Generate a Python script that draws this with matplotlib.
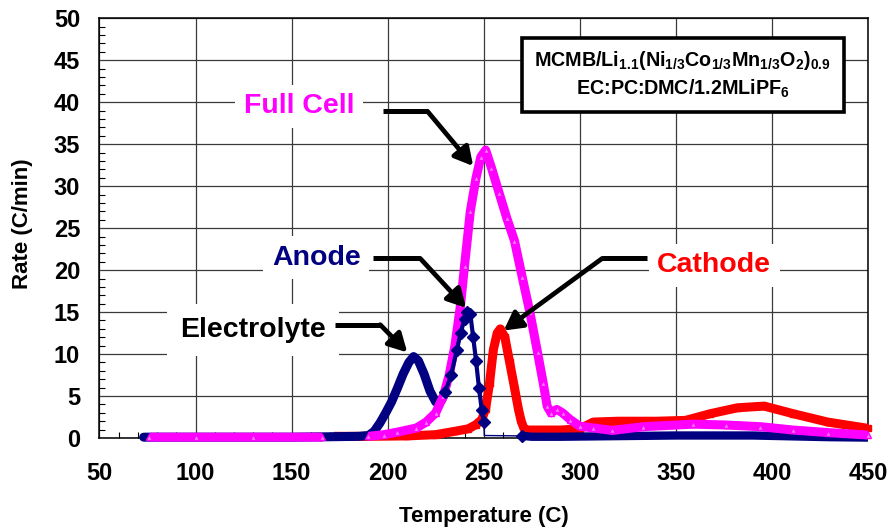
import numpy as np
import matplotlib
matplotlib.use("Agg")
import matplotlib.pyplot as plt
from matplotlib.patches import Rectangle

plt.rcParams['font.family'] = ['Liberation Sans', 'DejaVu Sans']
plt.rcParams['font.weight'] = 'bold'
plt.rcParams['mathtext.fontset'] = 'custom'
plt.rcParams['mathtext.rm'] = 'Liberation Sans:bold'
plt.rcParams['mathtext.it'] = 'Liberation Sans:bold'
plt.rcParams['mathtext.bf'] = 'Liberation Sans:bold'

# ---------------- data ----------------
T_elec = [73, 90, 110, 130, 150, 170, 185, 190, 193, 196, 199, 202, 205, 208, 211, 213.5, 216, 219, 222, 225, 228, 230]
R_elec = [0.1, 0.1, 0.1, 0.1, 0.1, 0.15, 0.2, 0.3, 0.8, 1.8, 3.0, 4.3, 5.9, 7.6, 9.0, 9.7, 9.2, 7.6, 5.6, 4.3, 4.5, 5.4]

T_anode = [230, 233, 236, 238, 240, 241.5, 243, 244.5, 246, 247.5, 249, 250, 250.3, 270, 275, 290, 310, 330, 350, 370, 390, 410, 430, 450]
R_anode = [5.5, 7.5, 10.5, 12.5, 14.2, 15.0, 14.8, 12.0, 9.2, 6.0, 3.3, 1.9, 0.3, 0.25, 0.15, 0.15, 0.2, 0.25, 0.3, 0.3, 0.3, 0.2, 0.1, 0.05]

T_full = [76, 100, 130, 166, np.nan, 190, 198, 205, 215, 220, 225, 229, 232, 235, 238, 240, 243, 246, 248.5, 251,
          254, 258, 262, 266, 270, 274, 278, 281, 283, 285, 288, 291, 295, 300, 307, 317, 333, 359, 376, 394, 411, 429, 450]
R_full = [0.1, 0.1, 0.1, 0.1, np.nan, 0.2, 0.4, 0.7, 1.2, 1.9, 3.0, 5.0, 7.5, 11.0, 16.0, 20.5, 27.0, 31.0, 33.5, 34.3,
          32.2, 29.2, 26.2, 23.5, 19.2, 15.0, 10.2, 6.5, 3.8, 3.0, 3.4, 3.0, 2.2, 1.4, 1.2, 0.9, 1.35, 1.65, 1.55, 1.35, 0.95, 0.65, 0.35]

T_cath = [172, 190, 210, 225, 235, 242, 246, 249, 251, 253, 255, 257, 258.6, 261, 263.5, 266, 268, 269.5, 271, 273,
          280, 290, 300, 307, 320, 340, 355, 368, 382, 396, 411, 429, 450]
R_cath = [0.2, 0.2, 0.25, 0.4, 0.8, 1.1, 1.6, 2.2, 3.5, 6.5, 10.5, 12.5, 13.0, 12.0, 9.0, 6.0, 3.5, 2.0, 1.1, 0.95,
          0.95, 0.95, 1.1, 1.9, 2.0, 2.0, 2.1, 2.9, 3.6, 3.8, 2.9, 1.9, 1.15]

x_ticks = [50, 100, 150, 200, 250, 300, 350, 400, 450]
y_ticks = [0, 5, 10, 15, 20, 25, 30, 35, 40, 45, 50]

NAVY = '#000080'
MAG = '#FF00FF'
RED = '#FF0000'

fig = plt.figure(figsize=(8.93, 5.29), dpi=100)
ax = fig.add_axes([0.1114, 0.172, 0.8606, 0.7934])
ax.set_xlim(50, 450)
ax.set_ylim(0, 50)
ax.set_xticks(x_ticks)
ax.set_yticks(y_ticks)
ax.set_xticks(np.arange(50, 451, 10), minor=True)
ax.set_yticks(np.arange(0, 51, 1), minor=True)
ax.grid(True, which='major', color='#3a3a3a', lw=0.9)
ax.set_axisbelow(True)
for s in ax.spines.values():
    s.set_linewidth(1.1)
    s.set_color('black')
ax.tick_params(axis='both', which='major', direction='in', length=0, labelsize=17)
ax.tick_params(axis='x', which='major', pad=17)
ax.tick_params(axis='y', which='major', pad=14)
ax.tick_params(axis='x', which='minor', direction='in', length=4.5, width=0.8, top=False)
ax.tick_params(axis='y', which='minor', direction='in', length=4, width=0.8, right=False)
for lab in ax.get_xticklabels() + ax.get_yticklabels():
    lab.set_fontweight('bold')

ax.set_xlabel('Temperature (C)', fontsize=16, fontweight='bold')
ax.set_ylabel('Rate (C/min)', fontsize=16, fontweight='bold')
ax.xaxis.set_label_coords(0.5, -0.162)
ax.yaxis.set_label_coords(-0.087, 0.51)

# ---------------- series ----------------
ax.plot(T_cath, R_cath, color=RED, lw=6.5, marker='s', ms=4, mfc=RED, mec=RED,
        solid_capstyle='butt', clip_on=False, zorder=4)
ax.plot(T_elec, R_elec, color=NAVY, lw=6.5, solid_capstyle='round', clip_on=False, zorder=5)
i_end = T_anode.index(250.3)
i_tail = T_anode.index(270)
ax.plot(T_anode[:i_end], R_anode[:i_end], color=NAVY, lw=3.0, clip_on=False, zorder=7)
ax.plot(T_anode[:i_tail + 1], R_anode[:i_tail + 1], color=NAVY, lw=1.0, marker='D', ms=6.5,
        markevery=list(range(0, i_end)) + [i_tail], clip_on=False, zorder=7)
ax.plot(T_anode[i_tail:], R_anode[i_tail:], color=NAVY, lw=6.0, solid_capstyle='butt',
        clip_on=False, zorder=5)
ax.plot(T_full, R_full, color=MAG, lw=6.5, marker='^', ms=5, mfc='#ff7dff', mec=MAG,
        solid_capstyle='butt', clip_on=False, zorder=6)

# ---------------- annotations ----------------
def callout(x0, x1, y, hx, hy):
    ax.plot([x0, x1], [y, y], color='black', lw=3.6, solid_capstyle='butt', zorder=9)
    ax.annotate('', xy=(hx, hy), xytext=(x1, y),
                arrowprops=dict(arrowstyle='-|>,head_length=0.55,head_width=0.3', lw=3.4,
                                color='black', shrinkA=0, shrinkB=0, mutation_scale=20),
                zorder=9)

lbl_box = dict(boxstyle='square,pad=0.3', facecolor='white', edgecolor='none')
ax.text(153.9, 39.5, 'Full Cell', color=MAG, fontsize=20.5, fontweight='bold',
        ha='center', va='center', bbox=lbl_box, zorder=8)
callout(197.7, 220.8, 38.9, 244.5, 32.4)

ax.text(162.8, 21.5, 'Anode', color=NAVY, fontsize=20.5, fontweight='bold',
        ha='center', va='center', bbox=lbl_box, zorder=8)
callout(192.4, 216.9, 21.4, 240.8, 15.5)

ax.text(129.9, 12.9, 'Electrolyte', color='black', fontsize=20.5, fontweight='bold',
        ha='center', va='center', bbox=dict(boxstyle='square,pad=0.45', facecolor='white', edgecolor='none'),
        zorder=8)
callout(172.6, 196.1, 13.5, 210.2, 10.2)

ax.text(370, 20.6, 'Cathode', color=RED, fontsize=20.5, fontweight='bold',
        ha='center', va='center', bbox=lbl_box, zorder=8)
callout(335.2, 311.7, 21.4, 260.4, 12.8)

# info box
ax.add_patch(Rectangle((0.5498, 0.776), 0.419, 0.176, transform=ax.transAxes,
                       facecolor='white', edgecolor='black', lw=2.6, zorder=8))
ax.text(0.759, 0.900, r'MCMB/Li$_{1.1}$(Ni$_{1/3}$Co$_{1/3}$Mn$_{1/3}$O$_{2}$)$_{0.9}$',
        transform=ax.transAxes, fontsize=14.2, fontweight='bold', ha='center', va='center', zorder=9)
ax.text(0.759, 0.833, r'EC:PC:DMC/1.2MLiPF$_{6}$',
        transform=ax.transAxes, fontsize=14.2, fontweight='bold', ha='center', va='center', zorder=9)

fig.savefig('out.png', dpi=100)
